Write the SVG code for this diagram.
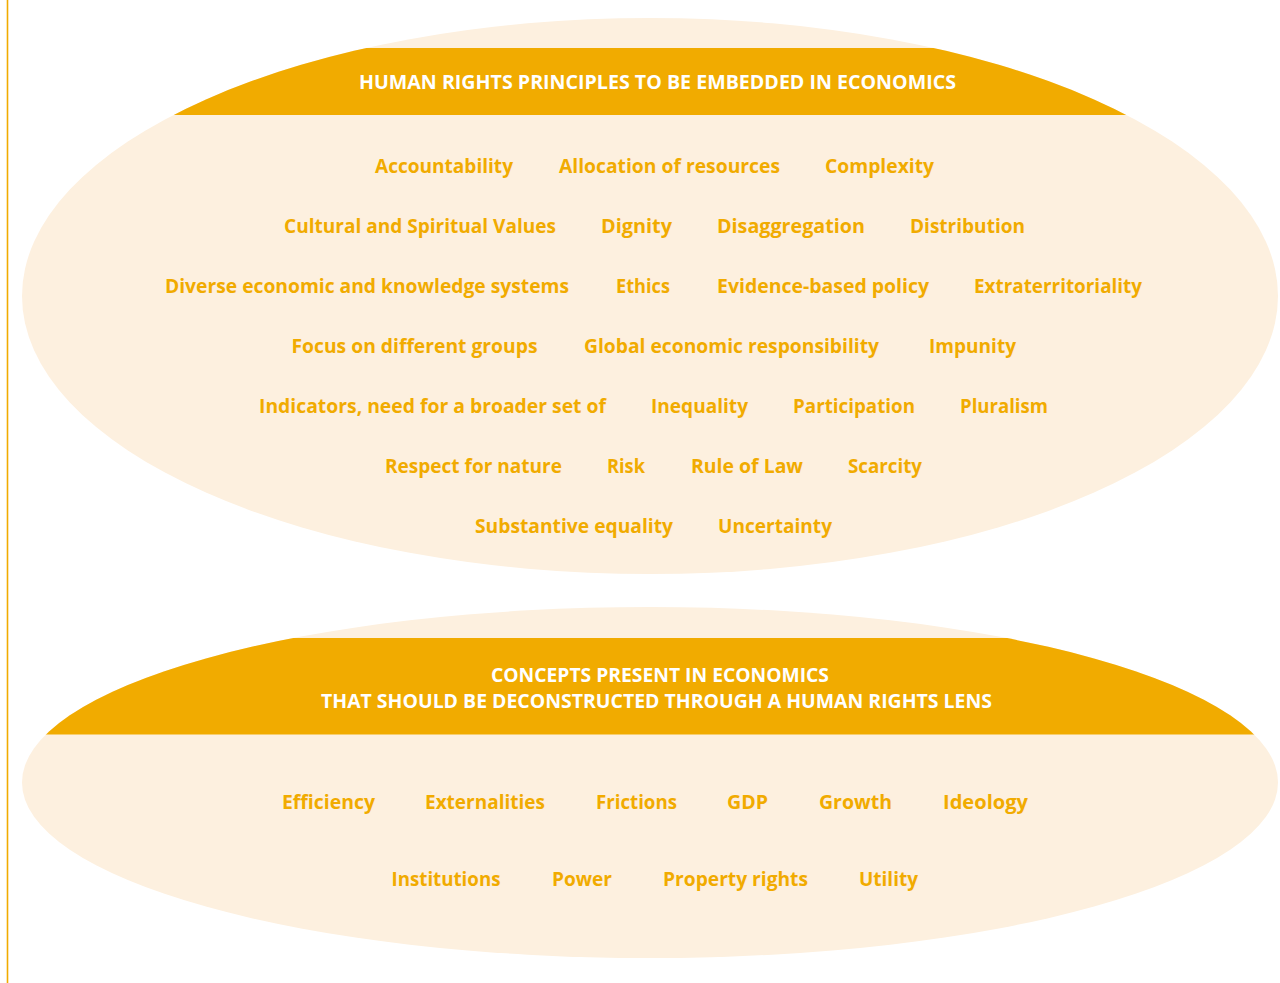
<svg xmlns="http://www.w3.org/2000/svg" width="1280" height="983" viewBox="0 0 1280 983">
  <defs>
    <clipPath id="clipTop"><ellipse cx="650" cy="296" rx="628" ry="278"/></clipPath>
    <clipPath id="clipBottom"><ellipse cx="650" cy="782.5" rx="628" ry="175.5"/></clipPath>
    <style>
      .oval { fill: #FDF0DF; }
      .band { fill: #F1AB00; }
      .head { font-family: "Open Sans", "Liberation Sans", sans-serif; font-weight: 700; font-size: 19px; fill: #FFFFFF; }
      .item { font-family: "Open Sans", "Liberation Sans", sans-serif; font-weight: 700; font-size: 19.5px; fill: #F1AB00; }
    </style>
  </defs>
  <rect x="0" y="0" width="1280" height="983" fill="#FFFFFF"/>
  <line x1="7.5" y1="0" x2="7.5" y2="983" stroke="#F1AB00" stroke-width="1.6"/>

  <g id="principles">
    <ellipse class="oval" cx="650" cy="296" rx="628" ry="278"/>
    <rect class="band" x="0" y="48" width="1280" height="67" clip-path="url(#clipTop)"/>
    <text class="head" x="359" y="89" textLength="597" lengthAdjust="spacingAndGlyphs">HUMAN RIGHTS PRINCIPLES TO BE EMBEDDED IN ECONOMICS</text>
    <g id="principle-items">
      <text class="item" x="375" y="173" textLength="138" lengthAdjust="spacingAndGlyphs">Accountability</text>
      <text class="item" x="559" y="173" textLength="221" lengthAdjust="spacingAndGlyphs">Allocation of resources</text>
      <text class="item" x="825" y="173" textLength="109" lengthAdjust="spacingAndGlyphs">Complexity</text>

      <text class="item" x="284" y="233" textLength="272" lengthAdjust="spacingAndGlyphs">Cultural and Spiritual Values</text>
      <text class="item" x="601" y="233" textLength="71" lengthAdjust="spacingAndGlyphs">Dignity</text>
      <text class="item" x="717" y="233" textLength="148" lengthAdjust="spacingAndGlyphs">Disaggregation</text>
      <text class="item" x="910" y="233" textLength="115" lengthAdjust="spacingAndGlyphs">Distribution</text>

      <text class="item" x="165" y="293" textLength="404" lengthAdjust="spacingAndGlyphs">Diverse economic and knowledge systems</text>
      <text class="item" x="616" y="293" textLength="54" lengthAdjust="spacingAndGlyphs">Ethics</text>
      <text class="item" x="717" y="293" textLength="212" lengthAdjust="spacingAndGlyphs">Evidence-based policy</text>
      <text class="item" x="974" y="293" textLength="168" lengthAdjust="spacingAndGlyphs">Extraterritoriality</text>

      <text class="item" x="291.5" y="353" textLength="246" lengthAdjust="spacingAndGlyphs">Focus on different groups</text>
      <text class="item" x="584" y="353" textLength="295" lengthAdjust="spacingAndGlyphs">Global economic responsibility</text>
      <text class="item" x="929" y="353" textLength="87" lengthAdjust="spacingAndGlyphs">Impunity</text>

      <text class="item" x="259" y="413" textLength="347" lengthAdjust="spacingAndGlyphs">Indicators, need for a broader set of</text>
      <text class="item" x="651" y="413" textLength="97" lengthAdjust="spacingAndGlyphs">Inequality</text>
      <text class="item" x="793" y="413" textLength="122" lengthAdjust="spacingAndGlyphs">Participation</text>
      <text class="item" x="960" y="413" textLength="88" lengthAdjust="spacingAndGlyphs">Pluralism</text>

      <text class="item" x="385" y="473" textLength="177" lengthAdjust="spacingAndGlyphs">Respect for nature</text>
      <text class="item" x="607" y="473" textLength="38" lengthAdjust="spacingAndGlyphs">Risk</text>
      <text class="item" x="691" y="473" textLength="112" lengthAdjust="spacingAndGlyphs">Rule of Law</text>
      <text class="item" x="848" y="473" textLength="74" lengthAdjust="spacingAndGlyphs">Scarcity</text>

      <text class="item" x="475" y="533" textLength="198" lengthAdjust="spacingAndGlyphs">Substantive equality</text>
      <text class="item" x="718" y="533" textLength="114" lengthAdjust="spacingAndGlyphs">Uncertainty</text>
    </g>
  </g>

  <g id="concepts">
    <ellipse class="oval" cx="650" cy="782.5" rx="628" ry="175.5"/>
    <rect class="band" x="0" y="638" width="1280" height="96.5" clip-path="url(#clipBottom)"/>
    <text class="head" x="491" y="681.5" textLength="338" lengthAdjust="spacingAndGlyphs">CONCEPTS PRESENT IN ECONOMICS</text>
    <text class="head" x="321" y="707.5" textLength="671" lengthAdjust="spacingAndGlyphs">THAT SHOULD BE DECONSTRUCTED THROUGH A HUMAN RIGHTS LENS</text>
    <g id="concept-items">
      <text class="item" x="282" y="809" textLength="93" lengthAdjust="spacingAndGlyphs">Efficiency</text>
      <text class="item" x="425" y="809" textLength="120" lengthAdjust="spacingAndGlyphs">Externalities</text>
      <text class="item" x="596" y="809" textLength="81" lengthAdjust="spacingAndGlyphs">Frictions</text>
      <text class="item" x="727" y="809" textLength="41" lengthAdjust="spacingAndGlyphs">GDP</text>
      <text class="item" x="819" y="809" textLength="73" lengthAdjust="spacingAndGlyphs">Growth</text>
      <text class="item" x="943" y="809" textLength="85" lengthAdjust="spacingAndGlyphs">Ideology</text>

      <text class="item" x="391.5" y="886" textLength="109" lengthAdjust="spacingAndGlyphs">Institutions</text>
      <text class="item" x="552" y="886" textLength="60" lengthAdjust="spacingAndGlyphs">Power</text>
      <text class="item" x="663" y="886" textLength="145" lengthAdjust="spacingAndGlyphs">Property rights</text>
      <text class="item" x="859" y="886" textLength="59" lengthAdjust="spacingAndGlyphs">Utility</text>
    </g>
  </g>
</svg>
